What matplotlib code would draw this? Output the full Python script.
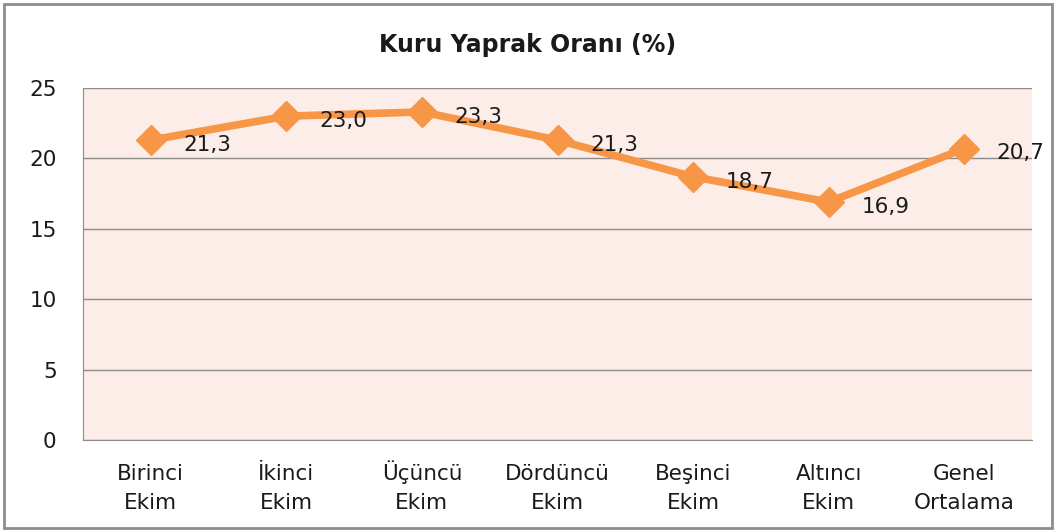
import matplotlib
matplotlib.use("Agg")
import matplotlib.pyplot as plt
from matplotlib.patches import Rectangle

categories = ["Birinci\nEkim", "İkinci\nEkim", "Üçüncü\nEkim", "Dördüncü\nEkim",
              "Beşinci\nEkim", "Altıncı\nEkim", "Genel\nOrtalama"]
values = [21.3, 23.0, 23.3, 21.3, 18.7, 16.9, 20.7]
value_labels = ["21,3", "23,0", "23,3", "21,3", "18,7", "16,9", "20,7"]
yticks = [0, 5, 10, 15, 20, 25]

plt.rcParams['font.family'] = ['DejaVu Sans']

fig = plt.figure(figsize=(10.56, 5.31), dpi=100)
ax = fig.add_axes([83/1056, 1-440/531, (1032-83)/1056, (440-88)/531])
ax.set_facecolor("#FCEDE8")

x = list(range(len(categories)))
ax.plot(x, values, color="#F79646", lw=5.5, marker="D", markersize=15,
        solid_joinstyle="miter", zorder=3)
for xi, v, lab in zip(x, values, value_labels):
    ax.annotate(lab, (xi, v), xytext=(23.5, -3.5), textcoords="offset points",
                ha="left", va="center", fontsize=15.5, color="#1a1a1a", zorder=4)

ax.set_xlim(-0.5, len(categories) - 0.5)
ax.set_ylim(0, 25)
ax.set_yticks(yticks)
ax.set_yticklabels([str(t) for t in yticks], fontsize=15.5)
ax.set_xticks(x)
ax.set_xticklabels(categories, fontsize=15.5, linespacing=1.55)
for t in ax.get_xticklabels():
    t.set_verticalalignment("baseline")
ax.tick_params(axis="x", length=0, pad=49.5, colors="#1a1a1a")
ax.tick_params(axis="y", length=0, pad=19, colors="#1a1a1a")
ax.grid(axis="y", color="#8c8c8c", lw=1)
ax.set_axisbelow(True)
for s in ["top", "right"]:
    ax.spines[s].set_visible(False)
ax.spines["bottom"].set_color("#8c8c8c")
ax.spines["left"].set_color("#8c8c8c")

fig.text(0.5, 1-45/531, "Kuru Yaprak Oranı (%)", ha="center", va="center",
         fontsize=17, fontweight="bold", color="#1a1a1a")

fig.patches.append(Rectangle((4/1056, 3/531), 1048/1056, 524/531,
                             transform=fig.transFigure, fill=False,
                             edgecolor="#8c8c8c", lw=2))

fig.savefig("out.png", dpi=100)
